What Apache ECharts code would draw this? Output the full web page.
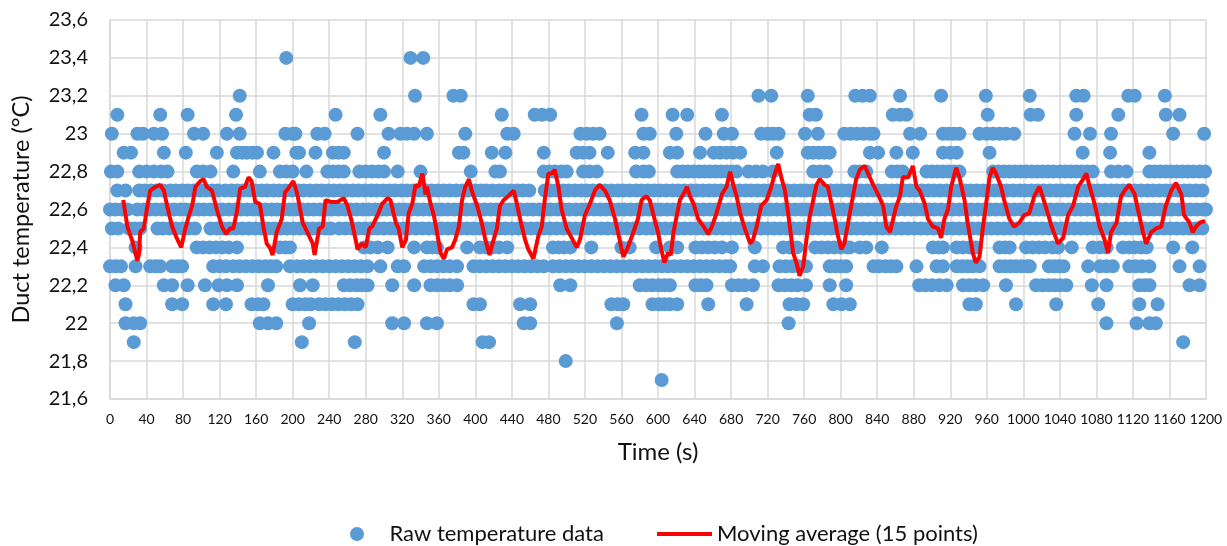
<!DOCTYPE html>
<html>
<head>
<meta charset="utf-8">
<script src="https://cdn.jsdelivr.net/npm/echarts@6/dist/echarts.min.js"></script>
<style>
html,body{margin:0;padding:0;background:#fff;}
#chart{width:1227px;height:546px;}
</style>
</head>
<body>
<div id="chart"></div>
<script>
// Raw temperature readings: times (s) at which each temperature level was observed
const t23_4 = [193, 329, 343];
const t23_2 = [142, 334, 376, 384, 710, 724, 764, 816, 824, 832, 865, 910, 959, 1007, 1058, 1066, 1115, 1122, 1155];
const t23_1 = [8, 55, 85, 138, 247, 296, 429, 465, 473, 482, 582, 616, 632, 670, 766, 773, 857, 865, 872, 961, 1008, 1016, 1058, 1104, 1156, 1171];
const t23_0 = [2, 30, 36, 48, 57, 92, 102, 128, 142, 192, 200, 203, 227, 235, 271, 305, 318, 325, 333, 347, 389, 435, 442, 515, 522, 529, 536, 584, 591, 620, 652, 672, 681, 713, 720, 726, 732, 761, 775, 804, 811, 818, 825, 832, 836, 876, 887, 912, 918, 924, 930, 952, 960, 967, 974, 981, 990, 1056, 1073, 1096, 1164, 1198];
const t22_9 = [15, 23, 59, 83, 117, 139, 145, 150, 156, 161, 179, 204, 207, 225, 244, 250, 256, 300, 382, 387, 418, 433, 475, 511, 518, 525, 545, 575, 584, 613, 621, 646, 661, 668, 675, 682, 690, 730, 764, 770, 776, 782, 788, 832, 841, 861, 879, 912, 920, 927, 963, 1065, 1095, 1138];
const t22_8 = [1, 8, 32, 40, 48, 56, 63, 95, 102, 110, 135, 164, 186, 193, 200, 215, 238, 244, 250, 256, 273, 280, 287, 294, 300, 315, 340, 395, 422, 427, 475, 481, 487, 494, 500, 518, 525, 533, 576, 584, 590, 621, 627, 633, 639, 645, 651, 657, 663, 669, 675, 681, 686, 699, 707, 715, 726, 770, 777, 784, 815, 821, 828, 856, 862, 868, 894, 900, 906, 912, 918, 924, 930, 967, 973, 979, 985, 991, 997, 1003, 1009, 1015, 1021, 1027, 1033, 1040, 1046, 1052, 1058, 1064, 1070, 1076, 1096, 1104, 1113, 1138, 1144, 1150, 1156, 1162, 1168, 1174, 1180, 1186, 1193, 1199];
const t22_7 = [8, 17, 32, 38, 45, 51, 58, 66, 72, 79, 85, 92, 99, 105, 112, 118, 126, 133, 139, 146, 152, 159, 166, 172, 179, 185, 192, 199, 206, 212, 219, 226, 232, 239, 245, 252, 259, 266, 272, 279, 286, 292, 299, 306, 312, 319, 325, 332, 339, 346, 352, 359, 365, 372, 379, 386, 392, 399, 406, 412, 419, 426, 432, 439, 446, 452, 459, 476, 482, 489, 496, 502, 509, 516, 522, 529, 536, 542, 549, 556, 562, 569, 576, 582, 589, 596, 602, 609, 616, 622, 629, 636, 642, 649, 656, 662, 669, 676, 682, 689, 696, 702, 709, 716, 722, 729, 736, 742, 749, 756, 762, 769, 776, 782, 789, 796, 802, 809, 816, 822, 829, 836, 842, 849, 856, 862, 869, 876, 882, 889, 896, 902, 909, 916, 922, 929, 936, 942, 949, 956, 962, 969, 976, 982, 989, 996, 1002, 1009, 1016, 1022, 1029, 1036, 1042, 1049, 1056, 1062, 1069, 1076, 1082, 1089, 1096, 1102, 1109, 1116, 1122, 1129, 1136, 1142, 1149, 1156, 1162, 1169, 1176, 1182, 1189, 1196];
const t22_6 = [0, 6, 13, 19, 30, 37, 43, 50, 57, 63, 70, 77, 83, 90, 97, 103, 110, 117, 123, 130, 137, 143, 150, 157, 163, 170, 177, 183, 190, 197, 203, 210, 217, 223, 230, 237, 243, 250, 257, 263, 270, 277, 283, 290, 297, 303, 310, 317, 323, 330, 337, 343, 350, 357, 363, 370, 377, 383, 390, 397, 403, 410, 417, 423, 430, 437, 443, 450, 457, 463, 470, 477, 483, 490, 497, 503, 510, 517, 523, 530, 537, 543, 550, 557, 563, 570, 577, 583, 590, 597, 603, 610, 617, 623, 630, 637, 643, 650, 657, 663, 670, 677, 683, 690, 697, 703, 710, 717, 723, 730, 737, 743, 750, 757, 763, 770, 777, 783, 790, 797, 803, 810, 817, 823, 830, 837, 843, 850, 857, 863, 870, 877, 883, 890, 897, 903, 910, 917, 923, 930, 937, 943, 950, 957, 963, 970, 977, 983, 990, 997, 1003, 1010, 1017, 1023, 1030, 1037, 1043, 1050, 1057, 1063, 1070, 1077, 1083, 1090, 1097, 1103, 1110, 1117, 1123, 1130, 1137, 1143, 1150, 1157, 1163, 1170, 1177, 1183, 1190, 1197, 1200];
const t22_5 = [2, 9, 21, 27, 33, 52, 58, 65, 72, 79, 86, 93, 110, 117, 124, 131, 138, 145, 152, 159, 166, 173, 180, 187, 194, 201, 208, 215, 222, 229, 236, 242, 251, 258, 265, 272, 279, 286, 293, 300, 307, 314, 321, 328, 335, 342, 349, 356, 363, 370, 377, 384, 391, 398, 405, 412, 419, 426, 433, 440, 447, 454, 461, 468, 475, 482, 489, 496, 503, 510, 517, 524, 531, 538, 545, 552, 559, 566, 573, 580, 587, 594, 601, 608, 615, 622, 629, 636, 643, 650, 657, 664, 671, 678, 685, 692, 699, 706, 713, 720, 727, 734, 741, 748, 755, 762, 769, 776, 783, 790, 797, 804, 811, 818, 825, 832, 839, 846, 853, 860, 867, 874, 881, 888, 895, 902, 909, 916, 923, 930, 937, 944, 951, 958, 965, 972, 979, 986, 993, 1000, 1007, 1014, 1021, 1028, 1035, 1042, 1049, 1056, 1063, 1070, 1077, 1084, 1091, 1098, 1105, 1112, 1119, 1126, 1133, 1140, 1147, 1154, 1161, 1168, 1175, 1182, 1189, 1196];
const t22_4 = [28, 95, 102, 109, 116, 123, 130, 139, 186, 192, 197, 278, 285, 293, 304, 333, 347, 353, 358, 391, 405, 412, 419, 426, 435, 485, 491, 497, 504, 527, 560, 569, 598, 613, 621, 641, 648, 655, 662, 670, 681, 706, 737, 744, 752, 772, 779, 786, 793, 800, 807, 810, 821, 828, 845, 901, 907, 912, 927, 934, 941, 948, 974, 980, 985, 1003, 1010, 1017, 1024, 1032, 1038, 1053, 1076, 1084, 1091, 1109, 1116, 1122, 1129, 1135, 1164, 1185];
const t22_3 = [0, 6, 12, 28, 44, 50, 55, 68, 74, 79, 113, 120, 127, 135, 142, 149, 156, 163, 170, 176, 182, 197, 205, 212, 219, 226, 233, 240, 247, 254, 261, 268, 275, 282, 296, 315, 322, 344, 351, 358, 365, 372, 380, 398, 405, 412, 419, 426, 433, 440, 447, 454, 461, 468, 475, 485, 492, 499, 506, 513, 520, 527, 534, 541, 548, 555, 562, 569, 576, 583, 590, 597, 604, 611, 618, 625, 632, 639, 646, 653, 660, 667, 674, 679, 706, 715, 733, 740, 747, 754, 762, 788, 794, 800, 806, 836, 842, 849, 855, 861, 883, 905, 912, 927, 933, 939, 945, 952, 974, 980, 986, 992, 998, 1004, 1007, 1028, 1034, 1039, 1044, 1071, 1084, 1091, 1098, 1116, 1123, 1130, 1138, 1171, 1193];
const t22_2 = [6, 15, 59, 68, 85, 104, 119, 128, 139, 173, 208, 222, 256, 263, 270, 276, 282, 309, 333, 351, 358, 365, 372, 380, 493, 504, 580, 587, 594, 601, 607, 613, 641, 647, 653, 681, 688, 695, 704, 732, 739, 746, 753, 762, 788, 806, 886, 893, 900, 908, 916, 934, 941, 948, 956, 981, 1014, 1021, 1028, 1034, 1040, 1047, 1075, 1091, 1127, 1133, 1138, 1182, 1193];
const t22_1 = [17, 68, 79, 113, 127, 155, 162, 168, 200, 207, 214, 220, 229, 236, 243, 250, 257, 264, 271, 398, 405, 449, 460, 549, 556, 562, 594, 601, 607, 613, 621, 655, 697, 744, 752, 759, 792, 801, 810, 941, 948, 992, 1036, 1082, 1127, 1147];
const t22_0 = [17, 26, 33, 164, 173, 182, 218, 309, 322, 347, 358, 453, 460, 555, 743, 1091, 1124, 1138, 1145];
const t21_9 = [26, 210, 268, 408, 415, 1175];
const t21_8 = [499];
const t21_7 = [604];

const rawLevels = [
  [23.4, t23_4], [23.2, t23_2], [23.1, t23_1], [23.0, t23_0], [22.9, t22_9],
  [22.8, t22_8], [22.7, t22_7], [22.6, t22_6], [22.5, t22_5], [22.4, t22_4],
  [22.3, t22_3], [22.2, t22_2], [22.1, t22_1], [22.0, t22_0], [21.9, t21_9],
  [21.8, t21_8], [21.7, t21_7]
];

// Moving average (15 points)
const maTime = [14.5, 19, 24, 30, 32, 33, 37, 41, 44, 50, 55, 59, 62.5, 68, 73, 78, 82.5, 86, 90, 93.5, 99, 102.5, 106, 111.6, 117, 122.5, 127, 131.6, 135, 139, 142.5, 148, 151.6, 155, 159, 164, 168, 171.6, 175, 178, 182.5, 188, 191.6, 195, 200.7, 204, 205.5, 211, 216, 222, 224, 229, 233, 236, 238, 242, 245, 249, 256, 260, 264, 269, 271, 276, 280, 284, 287, 293, 298, 304, 307, 313, 316, 320, 324, 327, 331, 334.5, 338, 342, 345.5, 347, 351, 354.5, 358, 362, 365.5, 369, 374.5, 378, 382, 385.5, 389, 393, 396, 402, 407, 411, 415.6, 420, 423.6, 427, 431, 436, 442, 445.5, 449, 454.5, 458, 463.6, 469, 472.7, 476, 480, 483.6, 487, 491, 494.5, 500, 505.5, 511, 514.5, 520, 525.5, 531, 536, 542, 547, 553, 558, 562, 567, 573, 578, 582, 587, 591, 594.5, 600, 603.6, 607, 611, 614, 617, 621, 624, 630, 631.6, 635, 639, 644, 650, 655, 659, 664, 670, 675, 679, 682.5, 686, 690, 695, 701, 704, 708, 713, 719, 724, 728, 731.6, 735, 739, 742.5, 748, 751.6, 755, 759, 762.5, 766, 770, 773.5, 777, 782.5, 786, 790, 793.5, 797, 800.7, 804, 810, 813.5, 817, 821, 826.5, 830, 835.6, 841, 846.5, 850, 854, 855.6, 861, 865, 868, 874, 879, 883, 886.5, 892, 895.6, 901, 906.5, 910, 913.5, 917.5, 921, 926.5, 930, 935.6, 939, 944.7, 948, 952, 955.6, 959, 963, 966.5, 970, 975.6, 979, 984.7, 990, 995.6, 1001, 1006.5, 1012, 1017.5, 1021, 1025.5, 1031, 1038, 1043.6, 1049, 1054.5, 1060, 1065.5, 1069, 1072.7, 1078, 1083.6, 1089, 1092.7, 1096, 1102, 1107, 1111, 1116, 1122, 1125.5, 1131, 1134.5, 1140, 1145.5, 1151, 1156, 1162, 1167, 1173, 1176, 1182, 1185.5, 1189, 1193, 1199];
const maValue = [22.65, 22.51, 22.44, 22.33, 22.37, 22.48, 22.50, 22.62, 22.70, 22.72, 22.73, 22.70, 22.62, 22.51, 22.45, 22.40, 22.50, 22.56, 22.62, 22.72, 22.75, 22.76, 22.72, 22.70, 22.60, 22.51, 22.47, 22.50, 22.50, 22.59, 22.71, 22.72, 22.77, 22.75, 22.64, 22.63, 22.51, 22.42, 22.40, 22.36, 22.48, 22.55, 22.69, 22.71, 22.75, 22.70, 22.67, 22.53, 22.48, 22.42, 22.36, 22.50, 22.51, 22.65, 22.66, 22.64, 22.64, 22.64, 22.66, 22.62, 22.55, 22.44, 22.39, 22.42, 22.40, 22.50, 22.51, 22.57, 22.63, 22.66, 22.65, 22.53, 22.50, 22.40, 22.44, 22.58, 22.63, 22.73, 22.72, 22.79, 22.68, 22.72, 22.63, 22.57, 22.48, 22.37, 22.34, 22.39, 22.40, 22.44, 22.51, 22.65, 22.72, 22.76, 22.70, 22.62, 22.53, 22.44, 22.36, 22.44, 22.50, 22.62, 22.65, 22.67, 22.70, 22.63, 22.55, 22.44, 22.39, 22.34, 22.46, 22.51, 22.65, 22.79, 22.79, 22.81, 22.72, 22.60, 22.50, 22.45, 22.40, 22.44, 22.57, 22.63, 22.70, 22.73, 22.70, 22.65, 22.55, 22.44, 22.35, 22.40, 22.48, 22.55, 22.65, 22.67, 22.65, 22.58, 22.48, 22.39, 22.32, 22.37, 22.36, 22.48, 22.58, 22.65, 22.70, 22.72, 22.67, 22.63, 22.55, 22.51, 22.47, 22.51, 22.58, 22.68, 22.72, 22.80, 22.73, 22.67, 22.58, 22.50, 22.42, 22.44, 22.51, 22.62, 22.65, 22.72, 22.79, 22.84, 22.77, 22.70, 22.58, 22.37, 22.32, 22.25, 22.30, 22.44, 22.56, 22.65, 22.73, 22.76, 22.73, 22.72, 22.63, 22.55, 22.46, 22.39, 22.42, 22.58, 22.67, 22.76, 22.81, 22.83, 22.79, 22.73, 22.68, 22.62, 22.51, 22.48, 22.47, 22.62, 22.67, 22.77, 22.77, 22.83, 22.72, 22.70, 22.63, 22.55, 22.51, 22.50, 22.45, 22.55, 22.60, 22.72, 22.82, 22.77, 22.65, 22.53, 22.37, 22.32, 22.35, 22.50, 22.62, 22.77, 22.82, 22.79, 22.72, 22.65, 22.55, 22.51, 22.53, 22.57, 22.58, 22.67, 22.72, 22.67, 22.60, 22.51, 22.42, 22.45, 22.57, 22.62, 22.72, 22.76, 22.79, 22.72, 22.63, 22.51, 22.44, 22.37, 22.48, 22.53, 22.67, 22.70, 22.73, 22.68, 22.60, 22.48, 22.42, 22.48, 22.50, 22.51, 22.62, 22.70, 22.74, 22.68, 22.57, 22.53, 22.48, 22.51, 22.53, 22.54];

const xTicks = { min: 0, max: 1200, interval: 40 };
const yTicks = { min: 21.6, max: 23.6, interval: 0.2 };

const rawData = [];
rawLevels.forEach(function (lv) {
  lv[1].forEach(function (t) { rawData.push([t, lv[0]]); });
});
const maData = maTime.map(function (t, i) { return [t, maValue[i]]; });

const FONT = 'Lato, "Noto Sans", sans-serif';
const chart = echarts.init(document.getElementById('chart'), null, { renderer: 'canvas' });
chart.setOption({
  animation: false,
  backgroundColor: '#ffffff',
  textStyle: { fontFamily: FONT },
  grid: { left: 110, right: 21, top: 20, bottom: 147, containLabel: false },
  legend: [
    {
      left: 345, top: 518, itemWidth: 55, itemHeight: 14, itemGap: 0,
      data: [{ name: 'Raw temperature data', icon: 'circle' }],
      textStyle: { fontFamily: FONT, fontSize: 22, color: '#111' }
    },
    {
      left: 652, top: 518, itemWidth: 55, itemHeight: 4, itemGap: 0,
      data: [{ name: 'Moving average (15 points)', icon: 'rect' }],
      textStyle: { fontFamily: FONT, fontSize: 22, color: '#111' }
    }
  ],
  xAxis: {
    type: 'value',
    min: xTicks.min, max: xTicks.max, interval: xTicks.interval,
    name: 'Time (s)', nameLocation: 'middle', nameGap: 41,
    nameTextStyle: { fontFamily: FONT, fontSize: 24, color: '#111' },
    axisLine: { show: true, lineStyle: { color: '#d9d9d9', width: 1.5 } },
    axisTick: { show: false },
    axisLabel: {
      fontFamily: FONT, fontSize: 14, color: '#111', margin: 13,
      formatter: function (v) { return String(v); }
    },
    splitLine: { show: true, lineStyle: { color: '#d9d9d9', width: 1.5 } }
  },
  yAxis: {
    type: 'value',
    min: yTicks.min, max: yTicks.max, interval: yTicks.interval,
    name: 'Duct temperature (°C)', nameLocation: 'middle', nameGap: 77, nameRotate: 90,
    nameTextStyle: { fontFamily: FONT, fontSize: 23.5, color: '#111' },
    axisLine: { show: true, lineStyle: { color: '#d9d9d9', width: 1.5 } },
    axisTick: { show: false },
    axisLabel: {
      fontFamily: FONT, fontSize: 20, color: '#111', margin: 22,
      formatter: function (v) { return (Math.round(v * 10) / 10).toString().replace('.', ','); }
    },
    splitLine: { show: true, lineStyle: { color: '#d9d9d9', width: 1.5 } }
  },
  series: [
    {
      name: 'Raw temperature data',
      type: 'scatter',
      symbol: 'circle',
      symbolSize: 14,
      itemStyle: { color: '#5b9bd5', opacity: 1 },
      data: rawData,
      z: 2
    },
    {
      name: 'Moving average (15 points)',
      type: 'line',
      symbol: 'none',
      showSymbol: false,
      lineStyle: { color: '#ff0000', width: 4 },
      itemStyle: { color: '#ff0000' },
      data: maData,
      z: 3
    }
  ]
});
</script>
</body>
</html>
